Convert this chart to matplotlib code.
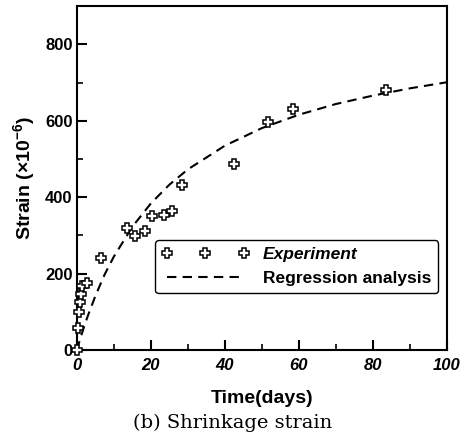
import numpy as np
import matplotlib
matplotlib.use("Agg")
import matplotlib.pyplot as plt
from matplotlib.ticker import MultipleLocator

plt.rcParams['font.family'] = ['Liberation Sans', 'DejaVu Sans']
plt.rcParams['mathtext.fontset'] = 'custom'
plt.rcParams['mathtext.rm'] = 'Liberation Sans:bold'
plt.rcParams['mathtext.it'] = 'Liberation Sans:bold'

# measured shrinkage strain (x10^-6)
exp_days = [0, 0.3, 0.5, 0.9, 1.2, 1.5, 2.7, 6.5, 13.5, 15.7, 18.5, 20.2, 23.5, 25.6, 28.3, 42.4, 51.6, 58.4, 83.5]
exp_strain = [0, 58, 100, 125, 148, 168, 176, 241, 320, 299, 312, 351, 354, 365, 433, 488, 598, 630, 680]

# regression curve
reg_days = [0, 1, 2, 3, 5, 7.5, 10, 15, 20, 25, 30, 40, 50, 60, 70, 80, 90, 100]
reg_strain = [0, 33, 63, 91, 142, 198, 245, 323, 384, 433, 473, 535, 581, 616, 644, 666, 685, 701]

fig = plt.figure(figsize=(4.66, 4.41), dpi=100)
ax = fig.add_axes([0.165, 0.206, 0.794, 0.780])

ax.plot(reg_days, reg_strain, color='black', linestyle=(0, (4.5, 3)), linewidth=1.5,
        label='Regression analysis', zorder=2)
ax.plot(exp_days, exp_strain, linestyle='none', marker='P', markersize=7,
        markerfacecolor='white', markeredgecolor='black', markeredgewidth=1.1,
        label='Experiment', zorder=3, clip_on=False)

ax.set_xlim(0, 100)
ax.set_ylim(0, 900)
ax.xaxis.set_major_locator(MultipleLocator(20))
ax.xaxis.set_minor_locator(MultipleLocator(10))
ax.yaxis.set_major_locator(MultipleLocator(200))
ax.yaxis.set_minor_locator(MultipleLocator(100))
ax.set_yticks([0, 200, 400, 600, 800])
ax.tick_params(which='major', direction='in', length=7, width=1.5, pad=3)
ax.tick_params(axis='x', which='major', pad=6)
ax.tick_params(which='minor', direction='in', length=4, width=1.2)
for s in ax.spines.values():
    s.set_linewidth(1.5)

for lab in ax.get_xticklabels():
    lab.set_fontsize(12)
    lab.set_fontweight('bold')
    lab.set_fontstyle('italic')
for lab in ax.get_yticklabels():
    lab.set_fontsize(12)
    lab.set_fontweight('bold')

ax.set_xlabel('Time(days)', fontsize=14, fontweight='bold', labelpad=12)
ax.set_ylabel(r'Strain ($\times$10$^{-6}$)', fontsize=14, fontweight='bold', labelpad=6)

handles, labels = ax.get_legend_handles_labels()
leg = ax.legend(handles[::-1], labels[::-1], loc='lower right', bbox_to_anchor=(0.976, 0.166),
                borderaxespad=0, numpoints=3, handlelength=5, fancybox=True,
                edgecolor='black', framealpha=1, prop={'weight': 'bold', 'size': 12.5})
leg.get_frame().set_linewidth(1.0)
leg.get_texts()[0].set_fontstyle('italic')

fig.text(0.5, 0.04, '(b) Shrinkage strain', ha='center', va='center',
         fontsize=14, family='DejaVu Serif')

fig.savefig('out.png', dpi=100)
